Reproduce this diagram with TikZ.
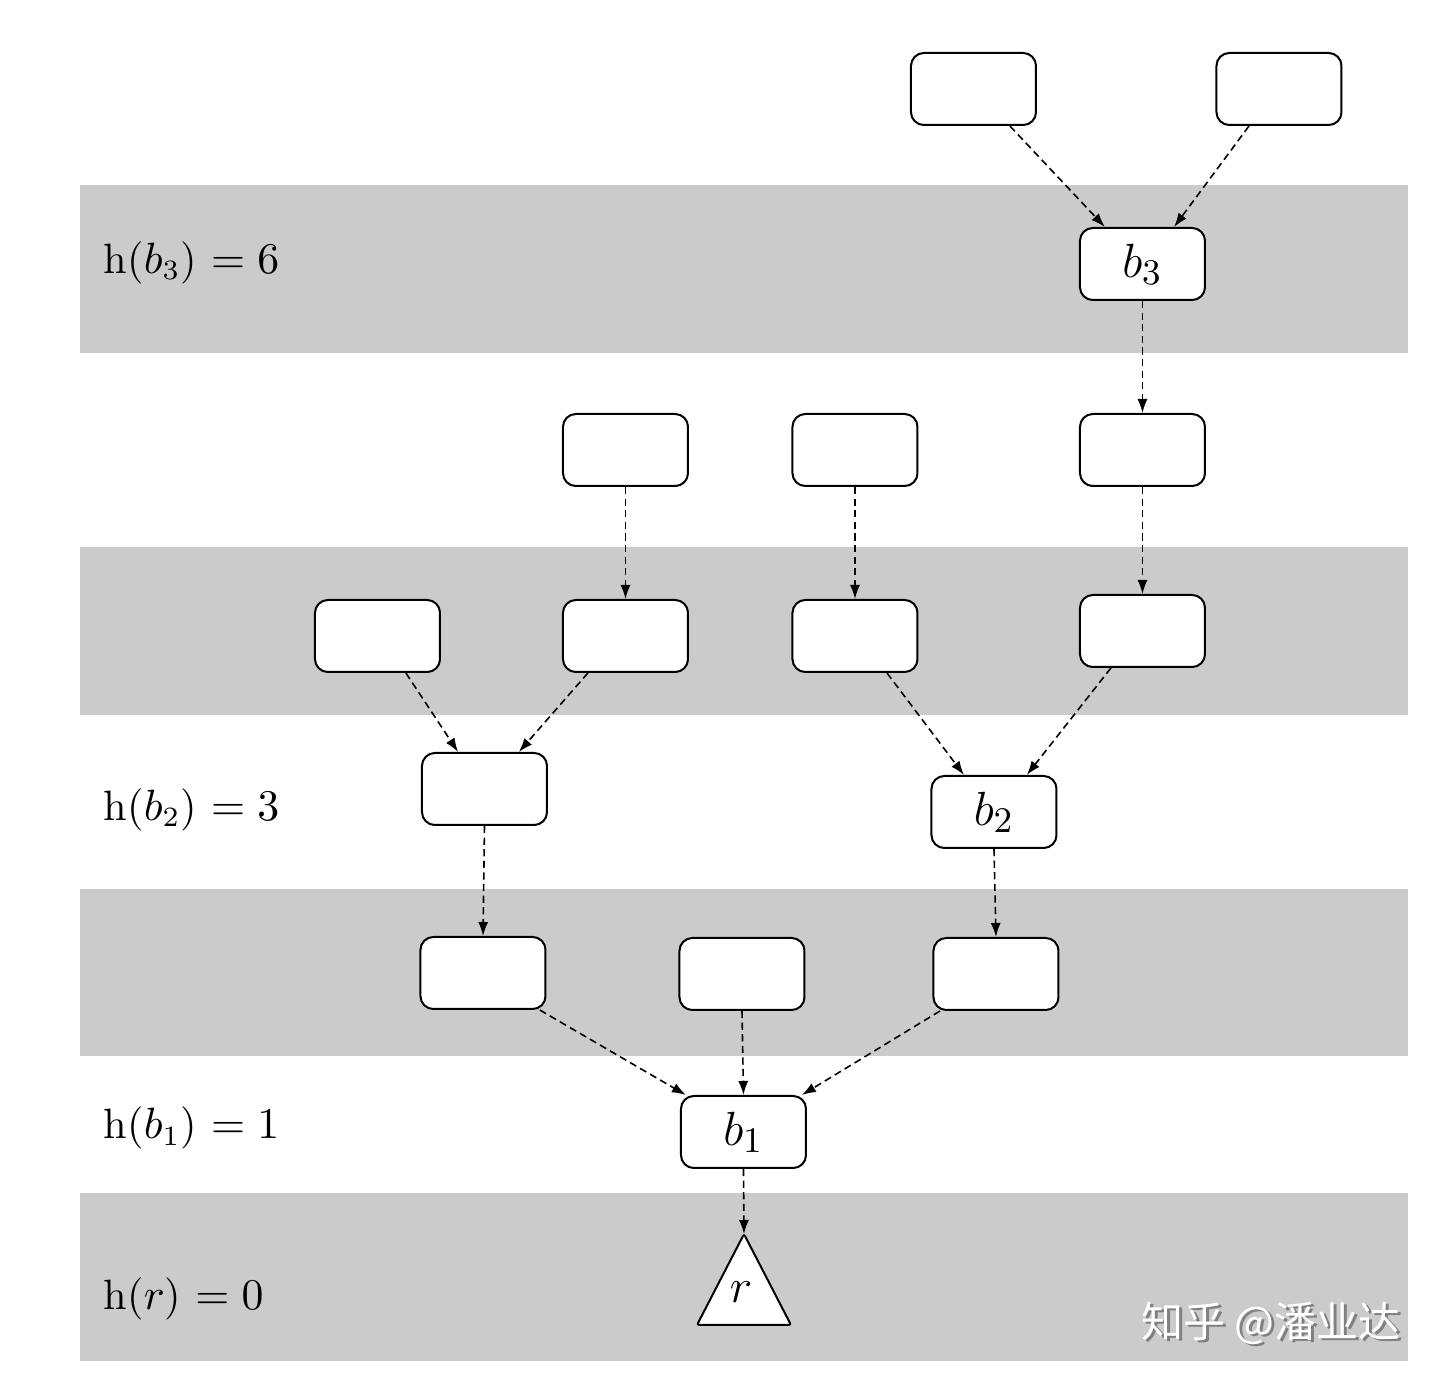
\documentclass[tikz,border=0pt]{standalone}
\usepackage{fontspec}
\newfontfamily\cjk{Noto Sans CJK SC}
\usetikzlibrary{arrows.meta}
\definecolor{bandgray}{HTML}{CBCBCB}
\begin{document}
\begin{tikzpicture}[x = 0.25pt, y = -0.25pt]
    \tikzstyle{block}=[rectangle, rounded corners = 3.2pt, draw = black, line width = 0.5pt, fill = white, minimum width = 31.25pt, minimum height = 18pt, inner sep = 0pt, font = \fontsize{12.5}{14}\selectfont]
    \tikzstyle{dep}=[-{Latex[length = 3.5pt, width = 2.5pt]}, line width = 0.4pt, dash pattern = on 1.8pt off 1.1pt]
    \tikzstyle{level}=[anchor = base west, inner sep = 0pt, font = \fontsize{10.6}{13}\selectfont]
    \useasboundingbox (0,0) rectangle (1440,1381);

    % height bands
    \foreach \top/\bot in {185/353, 547/715, 889/1056, 1193/1361}
    \fill[bandgray] (80,\top) rectangle (1408,\bot);

    \node[level] (L-b3) at (103,273) {h($b_3$) $=6$};
    \node[level] (L-b2) at (103,820) {h($b_2$) $=3$};
    \node[level] (L-b1) at (103,1139) {h($b_1$) $=1$};
    \node[level] (L-r) at (103,1309) {h($r$) $=0$};

    % blocks
    \foreach \name/\x/\y/\txt in {t1/973.5/89/, t2/1279/89/, b3/1142.5/264/$b_3$,
        a1/625.5/450/, a2/855/450/, a3/1142.5/450/,
        c1/377.5/636/, c2/625.5/636/, c3/855/636/, c4/1142.5/631/,
        d1/484.5/789/, b2/994/812/$b_2$,
        e1/483/973/, e2/742/974/, e3/996/974/, b1/743.5/1132/$b_1$}
    \node[block] (G-\name) at (\x,\y) {\txt};

    % root
    \coordinate (G-rtop) at (744,1234);
    \draw[line width = 0.5pt, fill = white, rounded corners = 0.6pt] (G-rtop) -- (791,1325) -- (697,1325) -- cycle;
    \node[inner sep = 0pt, font = \fontsize{12.5}{14}\selectfont] (G-r) at (741,1292) {$r$};

    % dependencies (shifts in pt)
    \foreach \from/\fx/\to/\tx in {t1/9.1/b3/-9.4, t2/-7.5/b3/7.9, b3/0/a3/0,
        a1/0/c2/0, a2/0/c3/0, a3/0/c4/0,
        c1/7.1/d1/-6.6, c2/-9.4/d1/8.6, c3/8/b2/-7.5, c4/-7.9/b2/8.2,
        d1/0/e1/0, b2/0/e3/0, e1/14.2/b1/-14.4, e2/0/b1/0, e3/-14/b1/14.6}
    \draw[dep] ([xshift = \fx pt]G-\from.south) -- ([xshift = \tx pt]G-\to.north);
    \draw[dep] (G-b1.south) -- (G-rtop);

    % watermark
    \node[anchor = base east, inner sep = 0pt, text = black!50, font = \cjk\fontsize{10.5}{12}\selectfont] at (1404,1340) {知乎 @潘业达};
    \node[anchor = base east, inner sep = 0pt, text = white, font = \cjk\fontsize{10.5}{12}\selectfont] (mark) at (1401,1337) {知乎 @潘业达};
\end{tikzpicture}
\end{document}
